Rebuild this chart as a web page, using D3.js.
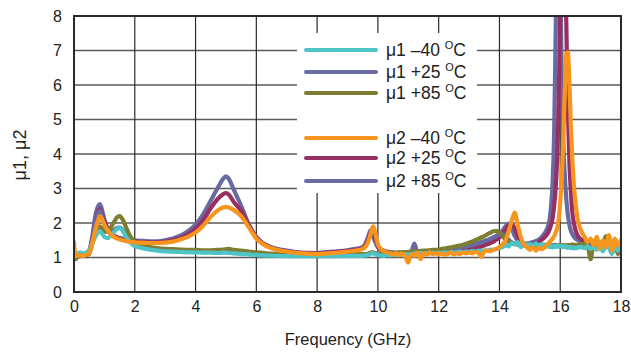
<!DOCTYPE html>
<html>
<head>
<meta charset="utf-8">
<script src="https://cdn.jsdelivr.net/npm/d3@7"></script>
<style>
  html, body { margin: 0; padding: 0; background: #fff; }
  svg { display: block; font-family: "Liberation Sans", Arial, sans-serif; }
</style>
</head>
<body>
<svg id="chart" width="631" height="356"></svg>
<script>
// Frequency sample points (GHz), shared by every trace
const freqGHz = [
  0, 0.05, 0.1, 0.2, 0.3, 0.4, 0.5, 0.6, 0.7, 0.8, 0.85, 0.9, 1.0, 1.1, 1.2, 1.3, 1.4, 1.5, 1.6, 1.7, 1.8, 1.9, 2.0,
  2.25, 2.5, 2.75, 3.0, 3.25, 3.5, 3.75, 4.0, 4.25, 4.5, 4.75, 4.9, 5.0, 5.1, 5.25, 5.5, 5.75, 6.0, 6.25, 6.5, 7.0, 7.5, 8.0, 8.5, 9.0, 9.25,
  9.5, 9.6, 9.7, 9.75, 9.8, 9.85, 9.9, 10.0,
  10.1, 10.2, 10.3, 10.4, 10.5, 10.6, 10.7, 10.8, 10.9, 11.0,
  11.1, 11.2, 11.3, 11.4, 11.5, 11.6, 11.7, 11.8, 11.9, 12.0,
  12.1, 12.2, 12.3, 12.4, 12.5, 12.6, 12.7, 12.8, 12.9, 13.0,
  13.1, 13.2, 13.3, 13.4, 13.5, 13.6, 13.7, 13.8, 13.9, 14.0,
  14.1, 14.2, 14.3, 14.4, 14.5, 14.6, 14.7, 14.8, 14.9, 15.0,
  15.1, 15.2, 15.3, 15.4, 15.5,
  15.55, 15.6, 15.65, 15.7, 15.75, 15.8, 15.85, 15.9, 15.95, 16.0, 16.05,
  16.1, 16.15, 16.2, 16.25, 16.3, 16.35, 16.4, 16.45, 16.5, 16.55, 16.6,
  16.7, 16.8, 16.9, 17.0, 17.1, 17.2, 17.3, 17.4, 17.5, 17.6, 17.7, 17.8, 17.9, 18.0
];

// Stability factor mu1 at -40, +25, +85 degC
const mu1M40 = [
  1.1, 1.05, 1.1, 1.15, 1.12, 1.15, 1.2, 1.4, 1.6, 1.73, 1.76, 1.72, 1.6, 1.56, 1.62, 1.72, 1.82, 1.85, 1.78, 1.62, 1.5, 1.4, 1.33,
  1.27, 1.23, 1.2, 1.18, 1.17, 1.16, 1.15, 1.15, 1.14, 1.14, 1.13, 1.14, 1.14, 1.13, 1.12, 1.1, 1.09, 1.07, 1.06, 1.05, 1.04, 1.04, 1.04, 1.04, 1.05, 1.05,
  1.05, 1.06, 1.08, 1.1, 1.12, 1.12, 1.1, 1.07,
  1.06, 1.05, 1.07, 1.06, 1.08, 1.07, 1.09, 1.08, 1.1, 1.09,
  1.1, 1.12, 1.1, 1.13, 1.11, 1.13, 1.12, 1.14, 1.12, 1.14,
  1.13, 1.15, 1.13, 1.16, 1.14, 1.15, 1.17, 1.15, 1.18, 1.16,
  1.19, 1.17, 1.2, 1.18, 1.21, 1.2, 1.23, 1.22, 1.25, 1.27,
  1.3, 1.35, 1.32, 1.42, 1.38, 1.45, 1.3, 1.4, 1.36, 1.38,
  1.34, 1.4, 1.35, 1.38, 1.34,
  1.32, 1.36, 1.3, 1.34, 1.29, 1.33, 1.3, 1.35, 1.31, 1.33, 1.3,
  1.34, 1.3, 1.32, 1.28, 1.31, 1.27, 1.3, 1.26, 1.29, 1.27, 1.3,
  1.3, 1.27, 1.32, 1.25, 1.3, 1.22, 1.35, 1.18, 1.32, 1.28, 1.1, 1.35, 1.2, 1.3
];
const mu1P25 = [
  1.0, 1.02, 1.05, 1.08, 1.06, 1.1, 1.15, 1.5, 2.0, 2.3, 2.35, 2.25, 1.95, 1.75, 1.72, 1.78, 1.85, 1.87, 1.8, 1.65, 1.53, 1.45, 1.38,
  1.3, 1.26, 1.23, 1.21, 1.2, 1.19, 1.18, 1.18, 1.17, 1.17, 1.17, 1.18, 1.18, 1.18, 1.17, 1.15, 1.13, 1.11, 1.1, 1.09, 1.07, 1.06, 1.06, 1.06, 1.07, 1.08,
  1.08, 1.09, 1.1, 1.12, 1.13, 1.13, 1.12, 1.1,
  1.08, 1.09, 1.09, 1.1, 1.11, 1.11, 1.12, 1.13, 1.13, 1.14,
  1.14, 1.15, 1.15, 1.16, 1.17, 1.17, 1.18, 1.18, 1.19, 1.2,
  1.21, 1.22, 1.23, 1.24, 1.25, 1.27, 1.28, 1.3, 1.32, 1.34,
  1.36, 1.38, 1.41, 1.44, 1.47, 1.5, 1.54, 1.58, 1.62, 1.66,
  1.68, 1.63, 1.52, 1.44, 1.4, 1.38, 1.36, 1.35, 1.35, 1.34,
  1.35, 1.34, 1.35, 1.34, 1.35,
  1.34, 1.35, 1.33, 1.35, 1.34, 1.36, 1.34, 1.35, 1.33, 1.35, 1.34,
  1.36, 1.33, 1.35, 1.34, 1.36, 1.34, 1.35, 1.33, 1.35, 1.34, 1.35,
  1.35, 1.37, 1.34, 1.38, 1.33, 1.36, 1.32, 1.38, 1.34, 1.36, 1.3, 1.37, 1.33, 1.36
];
const mu1P85 = [
  1.0, 0.95, 1.0, 1.05, 1.05, 1.1, 1.15, 1.4, 1.7, 1.88, 1.9, 1.85, 1.75, 1.75, 1.85, 2.0, 2.15, 2.2, 2.1, 1.9, 1.7, 1.55, 1.45,
  1.35, 1.3, 1.27, 1.25, 1.24, 1.23, 1.22, 1.22, 1.21, 1.21, 1.22, 1.23, 1.24, 1.25, 1.22, 1.2, 1.17, 1.15, 1.13, 1.11, 1.09, 1.08, 1.08, 1.08, 1.09, 1.1,
  1.1, 1.1, 1.12, 1.14, 1.15, 1.15, 1.13, 1.1,
  1.1, 1.11, 1.12, 1.12, 1.13, 1.14, 1.14, 1.15, 1.16, 1.16,
  1.17, 1.18, 1.18, 1.19, 1.2, 1.2, 1.21, 1.22, 1.22, 1.23,
  1.25, 1.26, 1.28, 1.29, 1.31, 1.33, 1.35, 1.37, 1.4, 1.43,
  1.46, 1.5, 1.54, 1.58, 1.62, 1.67, 1.72, 1.76, 1.77, 1.72,
  1.62, 1.52, 1.45, 1.42, 1.4, 1.38, 1.37, 1.36, 1.36, 1.35,
  1.36, 1.35, 1.37, 1.36, 1.37,
  1.36, 1.35, 1.37, 1.34, 1.36, 1.35, 1.37, 1.36, 1.35, 1.37, 1.36,
  1.35, 1.34, 1.36, 1.35, 1.37, 1.36, 1.38, 1.35, 1.37, 1.36, 1.38,
  1.38, 1.4, 1.36, 0.95, 1.42, 1.38, 1.45, 1.35, 1.62, 1.4, 1.3, 1.5, 1.1, 1.45
];

// Stability factor mu2 at -40, +25, +85 degC
const mu2M40 = [
  1.45, 1.05, 1.05, 1.07, 1.05, 1.08, 1.12, 1.4, 1.8, 2.1, 2.2, 2.15, 1.95, 1.8, 1.68, 1.6, 1.56, 1.53, 1.5, 1.48, 1.46, 1.45, 1.44,
  1.43, 1.42, 1.42, 1.43, 1.46, 1.52, 1.6, 1.72, 1.92, 2.18, 2.38, 2.45, 2.47, 2.45, 2.38, 2.2, 1.88, 1.55, 1.37, 1.27, 1.17, 1.12, 1.1, 1.13, 1.17, 1.2,
  1.25, 1.32, 1.5, 1.65, 1.82, 1.9, 1.75, 1.38,
  1.25, 1.18, 1.15, 1.12, 1.08, 1.13, 1.06, 1.12, 1.02, 0.85,
  1.1, 1.05, 1.14, 0.95, 1.12, 1.08, 1.15, 1.1, 1.13, 1.09,
  1.12, 1.08, 1.1, 1.14, 1.09, 1.12, 1.1, 1.15, 1.12, 1.14,
  1.12, 1.16, 1.14, 1.02, 1.17, 1.2, 1.18, 1.23, 1.25, 1.3,
  1.38, 1.5, 1.75, 2.05, 2.3, 1.95, 1.6, 1.38, 1.3, 1.22,
  1.3, 1.2, 1.28, 1.24, 1.3,
  1.35, 1.4, 1.45, 1.5, 1.55, 1.62, 1.72, 1.85, 2.1, 2.6, 3.3,
  4.4, 5.8, 6.9, 6.95, 6.1, 4.8, 3.8, 3.1, 2.6, 2.25, 2.0,
  1.75, 1.6, 1.45, 1.55, 1.35, 1.6, 1.25, 1.5, 1.3, 1.65, 1.2, 1.55, 1.35, 1.5
];
const mu2P25 = [
  1.0, 1.0, 1.02, 1.05, 1.04, 1.07, 1.1, 1.5, 2.0, 2.35, 2.4, 2.3, 2.05, 1.85, 1.72, 1.63, 1.58, 1.55, 1.52, 1.5, 1.49, 1.48, 1.47,
  1.45, 1.44, 1.44, 1.46, 1.5, 1.57, 1.67, 1.83, 2.08, 2.43, 2.72, 2.83, 2.87, 2.82, 2.62, 2.35, 1.92, 1.57, 1.38, 1.28, 1.18, 1.13, 1.12, 1.15, 1.19, 1.22,
  1.27, 1.36, 1.55, 1.7, 1.8, 1.75, 1.6, 1.33,
  1.22, 1.17, 1.14, 1.13, 1.12, 1.12, 1.11, 1.13, 1.12, 1.1,
  1.13, 1.12, 1.14, 1.12, 1.13, 1.14, 1.13, 1.15, 1.14, 1.16,
  1.15, 1.17, 1.16, 1.18, 1.17, 1.19, 1.2, 1.21, 1.22, 1.23,
  1.25, 1.27, 1.29, 1.32, 1.35, 1.38, 1.42, 1.46, 1.52, 1.58,
  1.67, 1.8, 1.93, 1.97, 1.85, 1.62, 1.45, 1.36, 1.33, 1.33,
  1.36, 1.4, 1.45, 1.52, 1.6,
  1.65, 1.72, 1.82, 1.95, 2.15, 2.5, 3.0, 3.9, 5.5, 8.2, 11,
  13, 10, 7.8, 5.4, 3.8, 2.9, 2.3, 2.0, 1.8, 1.68, 1.6,
  1.52, 1.48, 1.45, 1.42, 1.45, 1.4, 1.43, 1.38, 1.42, 1.4, 1.37, 1.4, 1.38, 1.36
];
const mu2P85 = [
  0.95, 1.02, 1.05, 1.1, 1.08, 1.1, 1.2, 1.6, 2.2, 2.5, 2.55, 2.45, 2.1, 1.85, 1.7, 1.63, 1.6, 1.57, 1.55, 1.53, 1.52, 1.51, 1.5,
  1.48, 1.47, 1.47, 1.5, 1.55, 1.63, 1.76, 1.95, 2.25, 2.65, 3.05, 3.27, 3.35, 3.27, 2.98, 2.5, 1.97, 1.6, 1.4, 1.3, 1.2, 1.14, 1.13, 1.17, 1.21, 1.25,
  1.3, 1.42, 1.65, 1.78, 1.75, 1.6, 1.48, 1.3,
  1.24, 1.2, 1.17, 1.16, 1.15, 1.14, 1.15, 1.14, 1.15, 1.16,
  1.18, 1.4, 1.15, 1.17, 1.16, 1.18, 1.17, 1.19, 1.18, 1.2,
  1.2, 1.22, 1.21, 1.23, 1.24, 1.26, 1.27, 1.29, 1.31, 1.33,
  1.35, 1.38, 1.41, 1.44, 1.47, 1.5, 1.54, 1.58, 1.63, 1.68,
  1.78, 1.9, 1.98, 1.85, 1.63, 1.5, 1.45, 1.42, 1.4, 1.42,
  1.45, 1.48, 1.52, 1.6, 1.72,
  1.8, 1.92, 2.1, 2.5, 3.2, 4.6, 7.5, 11, 14, 9.5, 6.2,
  4.4, 3.4, 2.7, 2.25, 1.95, 1.78, 1.68, 1.6, 1.55, 1.52, 1.5,
  1.45, 1.42, 1.4, 1.43, 1.38, 1.41, 1.37, 1.45, 1.36, 1.4, 1.35, 1.42, 1.37, 1.4
];

// Axis ticks and legend labels
const xTicks = [0, 2, 4, 6, 8, 10, 12, 14, 16, 18];
const yTicks = [0, 1, 2, 3, 4, 5, 6, 7, 8];
const seriesLabels = ["\u03bc1 \u201340", "\u03bc1 +25", "\u03bc1 +85", "\u03bc2 \u201340", "\u03bc2 +25", "\u03bc2 +85"];
const seriesColors = ["#4fc4c6", "#6a6aa3", "#7d7d33", "#f7951e", "#982f62", "#6a6aa3"];
const seriesValues = [mu1M40, mu1P25, mu1P85, mu2M40, mu2P25, mu2P85];

const svg = d3.select("#chart");
const plot = { left: 74, right: 621, top: 16, bottom: 292 };

const x = d3.scaleLinear().domain([0, 18]).range([plot.left, plot.right]);
const y = d3.scaleLinear().domain([0, 8]).range([plot.bottom, plot.top]);

seriesValues.forEach((s, i) => {
  if (s.length !== freqGHz.length) throw new Error("length mismatch in series " + i + ": " + s.length + " vs " + freqGHz.length);
});

svg.append("defs").append("clipPath").attr("id", "plotClip")
  .append("rect")
  .attr("x", plot.left).attr("y", plot.top)
  .attr("width", plot.right - plot.left).attr("height", plot.bottom - plot.top);

// Grid
const grid = svg.append("g");
grid.selectAll("line.h").data(yTicks.slice(1, -1)).join("line")
  .attr("x1", plot.left).attr("x2", plot.right)
  .attr("y1", d => y(d)).attr("y2", d => y(d))
  .attr("stroke", "#5a5a5a").attr("stroke-width", 1.6);
grid.selectAll("line.v").data(xTicks.slice(1, -1)).join("line")
  .attr("y1", plot.top).attr("y2", plot.bottom)
  .attr("x1", d => x(d)).attr("x2", d => x(d))
  .attr("stroke", "#2a2a2a").attr("stroke-width", 1.2);

// Traces
const line = d3.line()
  .x((d, i) => x(freqGHz[i]))
  .y(d => y(d))
  .curve(d3.curveMonotoneX);

const drawOrder = [5, 4, 1, 2, 0, 3];
svg.append("g").attr("clip-path", "url(#plotClip)")
  .selectAll("path").data(drawOrder).join("path")
  .attr("d", k => line(seriesValues[k]))
  .attr("fill", "none")
  .attr("stroke", k => seriesColors[k])
  .attr("stroke-width", 4.2)
  .attr("stroke-linejoin", "round")
  .attr("stroke-linecap", "round");

// Frame
svg.append("rect")
  .attr("x", plot.left).attr("y", plot.top)
  .attr("width", plot.right - plot.left).attr("height", plot.bottom - plot.top)
  .attr("fill", "none").attr("stroke", "#2a2a2a").attr("stroke-width", 2);

// Axes
const xAxis = svg.append("g")
  .attr("transform", `translate(0,${plot.bottom})`)
  .call(d3.axisBottom(x).tickValues(xTicks).tickSize(0).tickPadding(9).tickFormat(d3.format("d")));
const yAxis = svg.append("g")
  .attr("transform", `translate(${plot.left},0)`)
  .call(d3.axisLeft(y).tickValues(yTicks).tickSize(0).tickPadding(12).tickFormat(d3.format("d")));
[xAxis, yAxis].forEach(g => {
  g.select(".domain").remove();
  g.selectAll("text")
    .attr("font-family", "'Liberation Sans', Arial, sans-serif")
    .attr("font-size", 16).attr("fill", "#222");
});

// Axis titles
svg.append("text")
  .attr("x", 348).attr("y", 345)
  .attr("text-anchor", "middle")
  .attr("font-size", 16.5).attr("fill", "#222")
  .text("Frequency (GHz)");
svg.append("text")
  .attr("transform", "translate(26,155) rotate(-90)")
  .attr("text-anchor", "middle")
  .attr("font-size", 18).attr("fill", "#222")
  .text("\u03bc1, \u03bc2");

// Legend
const legend = svg.append("g");
legend.append("rect")
  .attr("x", 297).attr("y", 33).attr("width", 180).attr("height", 160)
  .attr("fill", "#fff");
const rowsY = [50, 72, 93, 138, 158, 181];
const item = legend.selectAll("g.item").data(seriesLabels).join("g")
  .attr("transform", (d, i) => `translate(0,${rowsY[i]})`);
item.append("line")
  .attr("x1", 306).attr("x2", 376)
  .attr("stroke", (d, i) => seriesColors[i])
  .attr("stroke-width", 4).attr("stroke-linecap", "round");
const label = item.append("text")
  .attr("x", 386).attr("y", 6)
  .attr("font-size", 17.5).attr("fill", "#222");
label.append("tspan").text(d => d + " ");
label.append("tspan").attr("font-size", 11).attr("dy", -7).text("O");
label.append("tspan").attr("dy", 7).text("C");
</script>
</body>
</html>
